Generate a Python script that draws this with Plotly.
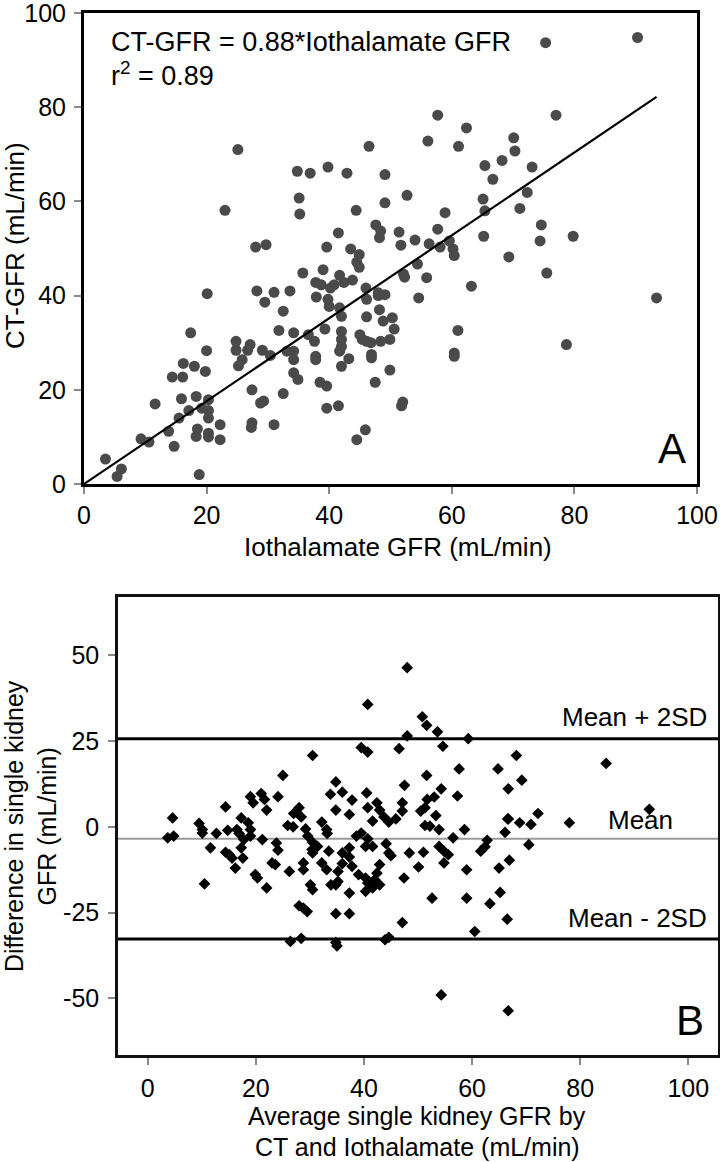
import plotly.graph_objects as go

# ---------------- Panel A data ----------------
iothalamate_gfr = [
    75.3, 90.3, 25.1, 23.0, 57.7, 77.0, 62.4, 56.1, 46.5, 61.1, 70.1, 70.3, 68.2, 65.4, 73.1, 66.7,
    34.8, 36.9, 39.8, 42.9, 49.1, 52.7, 49.1, 44.4, 35.1, 35.2, 72.3, 65.1, 65.4, 71.1, 58.9, 74.6,
    74.4, 79.8, 65.2, 69.3, 75.5, 57.7, 56.3, 58.1, 59.6, 60.2, 60.4, 51.4, 54.0, 51.7, 47.6, 48.4,
    48.2, 41.5, 39.6, 43.5, 44.9, 44.5, 44.9, 28.0, 29.7, 35.7, 39.0, 37.8, 38.7, 41.7, 42.4, 43.8,
    40.2, 40.8, 54.4, 52.1, 52.3, 55.9, 63.2, 93.4, 20.1, 28.2, 31.0, 33.6, 46.0, 48.0, 49.1, 54.6,
    29.5, 32.5, 37.9, 39.8, 40.0, 41.7, 42.0, 46.1, 46.1, 48.0, 48.2, 48.8, 50.3, 50.6, 49.9, 48.4,
    46.8, 45.4, 45.0, 46.1, 46.9, 46.9, 49.9, 47.5, 42.0, 42.0, 42.0, 41.7, 43.2, 42.0, 39.3, 37.6,
    36.6, 34.2, 37.8, 37.8, 34.2, 34.2, 33.1, 31.8, 30.4, 29.1, 27.1, 26.7, 24.8, 24.8, 25.8, 25.2,
    34.2, 34.9, 38.5, 39.6, 39.6, 41.5, 45.9, 44.5, 32.5, 31.0, 28.8, 29.3, 27.4, 27.4, 27.3, 52.0,
    51.8, 61.0, 60.4, 60.4, 78.7, 20.0, 19.8, 17.4, 16.2, 18.0, 14.4, 16.1, 11.6, 15.9, 18.3, 20.3,
    19.2, 20.3, 17.1, 15.5, 20.3, 22.2, 18.5, 18.3, 20.3, 20.3, 22.2, 13.8, 9.3, 10.6, 14.7, 3.5,
    6.1, 5.4, 18.8,
]
ct_gfr = [
    93.7, 94.8, 71.0, 58.1, 78.3, 78.3, 75.6, 72.8, 71.7, 71.7, 73.5, 70.7, 68.7, 67.6, 67.3, 64.7,
    66.4, 66.0, 67.3, 66.0, 65.7, 61.3, 59.7, 58.1, 60.7, 57.3, 61.9, 60.5, 58.0, 58.5, 57.6, 55.0,
    51.6, 52.6, 52.6, 48.2, 44.8, 54.1, 51.0, 50.3, 51.6, 49.9, 48.5, 53.5, 51.8, 50.7, 55.0, 53.7,
    52.3, 53.3, 50.3, 49.9, 48.7, 47.1, 46.0, 50.3, 50.8, 44.8, 45.5, 42.8, 42.3, 44.3, 42.8, 43.3,
    41.6, 42.3, 46.7, 44.6, 43.9, 43.8, 42.0, 39.5, 40.4, 41.0, 40.7, 41.0, 41.6, 40.0, 40.2, 39.5,
    38.6, 36.7, 39.7, 39.2, 37.7, 37.4, 35.6, 39.2, 35.5, 40.6, 37.0, 34.6, 35.3, 32.9, 30.7, 30.3,
    30.0, 30.7, 31.7, 30.3, 27.5, 26.8, 24.2, 21.6, 32.4, 30.7, 29.2, 28.2, 26.6, 25.0, 32.9, 30.3,
    31.7, 32.1, 27.1, 26.4, 28.2, 26.4, 28.2, 32.6, 27.3, 28.4, 29.6, 28.4, 30.3, 28.4, 26.4, 25.1,
    23.6, 22.2, 21.6, 20.8, 16.1, 16.6, 11.5, 9.4, 19.2, 12.6, 17.2, 17.6, 20.0, 13.0, 12.0, 17.4,
    16.6, 32.6, 27.8, 27.1, 29.6, 28.3, 23.9, 32.1, 25.6, 25.0, 22.7, 22.7, 17.0, 18.1, 18.6, 17.9,
    16.1, 15.6, 15.6, 14.0, 14.0, 12.6, 11.7, 10.1, 10.8, 10.0, 9.4, 11.2, 9.6, 8.9, 8.0, 5.3,
    3.2, 1.6, 2.0,
]
slope = 0.88
equation_text = "CT-GFR = 0.88*Iothalamate GFR"
r2_text = "r<sup>2</sup> = 0.89"
a_ticks = [0, 20, 40, 60, 80, 100]

# ---------------- Panel B data ----------------
average_gfr = [
    48.0, 40.7, 50.8, 51.6, 53.6, 48.0, 59.3, 54.6, 39.5, 40.7, 46.5, 30.5, 68.2, 84.8, 57.6, 64.8,
    25.0, 51.6, 34.8, 47.5, 69.2, 33.8, 36.0, 40.5, 37.8, 42.4, 47.1, 54.3, 57.3, 66.7, 21.0, 21.6,
    19.0, 19.5, 24.1, 22.0, 14.4, 17.3, 18.6, 19.0, 19.0, 17.8, 17.3, 28.0, 27.0, 28.4, 25.9, 26.9,
    29.2, 29.6, 32.2, 34.8, 37.3, 40.7, 42.9, 41.6, 43.7, 44.6, 45.9, 47.1, 50.5, 51.3, 51.7, 53.3,
    51.3, 52.2, 53.9, 58.6, 56.5, 66.7, 68.8, 70.9, 72.2, 78.0, 92.8, 66.1, 70.5, 62.8, 62.4, 61.6,
    66.9, 65.0, 59.0, 54.8, 55.6, 53.9, 54.8, 48.4, 51.0, 50.1, 47.4, 44.6, 44.1, 45.0, 42.9, 41.6,
    40.3, 40.7, 39.5, 38.6, 37.3, 36.0, 37.3, 36.0, 35.2, 37.8, 39.0, 40.3, 40.7, 42.0, 42.4, 42.9,
    41.6, 40.3, 37.3, 34.8, 33.9, 35.2, 33.1, 32.2, 33.5, 31.4, 30.5, 30.4, 30.5, 28.8, 28.8, 26.2,
    24.1, 23.0, 23.6, 19.9, 20.3, 22.0, 30.1, 30.5, 28.0, 28.8, 29.5, 34.8, 37.3, 47.1, 52.6, 59.0,
    63.3, 65.2, 66.5, 60.5, 26.4, 28.4, 34.8, 35.0, 43.9, 44.6, 54.3, 66.7, 10.5, 11.6, 12.7, 9.5,
    10.1, 10.1, 4.6, 3.7, 4.8, 14.8, 14.4, 15.1, 15.6, 16.2, 17.6, 16.5, 16.9, 21.2, 23.8, 33.1,
    33.2, 53.0, 66.6,
]
difference_gfr = [
    46.4, 35.7, 32.1, 29.6, 27.7, 26.5, 25.7, 23.5, 23.1, 21.8, 22.8, 20.8, 20.8, 18.5, 16.9, 16.9,
    15.0, 15.0, 13.1, 12.1, 13.6, 9.5, 10.1, 9.9, 7.8, 7.0, 7.0, 11.1, 9.0, 11.1, 9.7, 8.0,
    8.8, 7.0, 8.8, 4.9, 5.8, 2.6, 1.2, -0.8, -2.7, -3.7, -6.1, 5.6, 3.9, 2.9, 0.4, 0.0,
    -0.6, -2.7, 1.4, 4.9, 3.6, 5.6, 4.9, 1.7, 2.9, 1.4, 2.3, 4.6, 4.6, 5.6, 8.0, 3.3,
    0.4, 0.2, -0.8, -0.8, -3.2, 2.3, 1.2, 0.7, 3.9, 1.2, 5.1, -1.6, -5.2, -3.9, -5.8, -7.1,
    -9.7, -12.0, -12.5, -10.5, -8.1, -5.7, -7.1, -7.6, -7.4, -11.7, -14.9, -7.6, -4.9, -8.4, -11.0, -5.7,
    -5.7, -3.5, -1.8, -2.7, -6.1, -7.6, -8.8, -10.7, -13.0, -11.5, -13.9, -14.9, -16.4, -15.4, -13.5, -16.9,
    -17.8, -18.8, -19.3, -16.9, -16.9, -15.9, -12.5, -10.5, -7.1, -5.7, -4.5, -6.6, -7.6, -10.5, -12.5, -13.0,
    -6.8, -10.5, -11.0, -13.9, -14.9, -17.8, -16.9, -18.3, -23.0, -23.7, -24.7, -25.3, -25.3, -27.9, -20.8, -20.8,
    -22.4, -19.1, -26.9, -30.5, -33.4, -32.5, -33.7, -34.7, -32.9, -32.2, -49.0, -53.6, -16.6, -6.1, -1.9, 1.0,
    -0.8, -1.8, 2.6, -3.2, -2.7, -1.0, -7.4, -8.1, -9.1, -12.0, -9.1, -0.8, -1.9, -3.7, -4.7, -0.8,
    -1.9, 8.7, 2.3,
]
mean_diff = -3.5
upper_limit = 25.7
lower_limit = -32.7
b_xticks = [0, 20, 40, 60, 80, 100]
b_yticks = [50, 25, 0, -25, -50]
b_yticklabels = ["50", "25", "0", "-25", "-50"]

W, H = 720, 1162
FONT = "Liberation Sans, Arial, Helvetica, sans-serif"


def px(x):
    return x / W


def py(y):
    return 1 - y / H


fig = go.Figure()

fig.add_trace(go.Scatter(
    x=iothalamate_gfr, y=ct_gfr, mode="markers",
    marker=dict(symbol="circle", size=11, color="#4a4a4a"),
    xaxis="x", yaxis="y", showlegend=False, cliponaxis=False,
))
x_end = max(iothalamate_gfr)
fig.add_trace(go.Scatter(
    x=[0, x_end], y=[0, slope * x_end], mode="lines",
    line=dict(color="black", width=2.2),
    xaxis="x", yaxis="y", showlegend=False,
))

fig.add_trace(go.Scatter(
    x=average_gfr, y=difference_gfr, mode="markers",
    marker=dict(symbol="diamond", size=9, color="black"),
    xaxis="x2", yaxis="y2", showlegend=False,
))

tickfont = dict(family=FONT, size=25, color="black")
common = dict(showgrid=False, zeroline=False, showline=True, mirror=True,
              ticks="outside", ticklen=7, tickcolor="#888888", tickwidth=1.5,
              tickfont=tickfont, automargin=False, ticklabeloverflow="allow")

fig.update_layout(
    template="none",
    width=W, height=H,
    margin=dict(l=0, r=0, t=0, b=0, pad=0),
    paper_bgcolor="white", plot_bgcolor="white",
    font=dict(family=FONT, color="black"),
    xaxis=dict(domain=[px(84), px(697)], range=[0, 100], tickvals=a_ticks,
               linewidth=3, linecolor="black", ticklabelstandoff=0, anchor="y", **common),
    yaxis=dict(domain=[py(484), py(13)], range=[0, 100], tickvals=a_ticks,
               linewidth=3, linecolor="black", ticklabelstandoff=3, anchor="x", **common),
    xaxis2=dict(domain=[px(118), px(718)], range=[-5.5, 105.5], tickvals=b_xticks,
                linewidth=2.5, linecolor="#111111", ticklabelstandoff=2, anchor="y2", **common),
    yaxis2=dict(domain=[py(1055), py(597)], range=[-66.5, 67], tickvals=b_yticks,
                ticktext=b_yticklabels,
                linewidth=2.5, linecolor="#111111", ticklabelstandoff=4, anchor="x2", **common),
)

# Reference lines in panel B
for val, col, wid in [(upper_limit, "black", 3), (mean_diff, "#9a9a9a", 2), (lower_limit, "black", 3)]:
    fig.add_shape(type="line", xref="x2 domain", yref="y2", x0=0, x1=1, y0=val, y1=val,
                  line=dict(color=col, width=wid), layer="below")

ann = []


def add_text(text, x, y, size, xanchor="center", yanchor="middle", angle=0):
    ann.append(dict(text=text, xref="paper", yref="paper", x=px(x), y=py(y),
                    xanchor=xanchor, yanchor=yanchor, showarrow=False, textangle=angle,
                    font=dict(family=FONT, size=size, color="black")))


# Panel A texts
add_text(equation_text, 109, 42, 27, xanchor="left")
add_text(r2_text, 109, 74, 27, xanchor="left")
add_text("A", 688, 474, 42, xanchor="right", yanchor="bottom")
add_text("Iothalamate GFR (mL/min)", 398, 547, 26)
add_text("CT-GFR (mL/min)", 15, 246, 26, angle=-90)

# Panel B texts
add_text("Mean + 2SD", 709, 717, 26, xanchor="right")
add_text("Mean", 640, 820, 26)
add_text("Mean - 2SD", 709, 918, 26, xanchor="right")
add_text("B", 706, 1046, 42, xanchor="right", yanchor="bottom")
add_text("Average single kidney GFR by", 417, 1116, 25)
add_text("CT and Iothalamate (mL/min)", 417, 1147, 25)
add_text("Difference in single kidney<br>GFR (mL/min)", 30, 826, 25, angle=-90)

fig.update_layout(annotations=ann)

fig.write_html(
    "out.html",
    config={"displayModeBar": False},
    post_script="document.body.style.margin='0';document.body.style.overflow='hidden';",
)
